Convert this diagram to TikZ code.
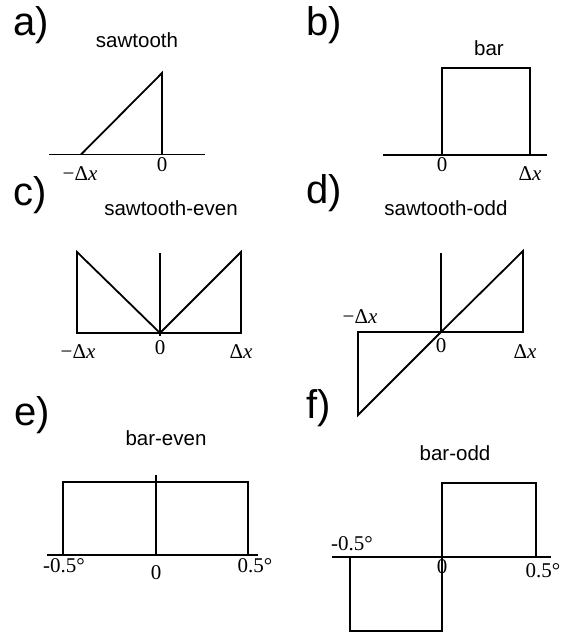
\documentclass[tikz,border=0pt]{standalone}
\usepackage{fontspec}
\setmainfont{Liberation Serif}
\newfontfamily\lblfont{Liberation Sans}
\begin{document}
\begin{tikzpicture}[x=1pt,y=-1pt,
  plotline/.style={line width=1.8pt, line join=miter},
  panel/.style={font=\fontsize{40}{40}\selectfont\lblfont, inner sep=0, anchor=base west},
  ttl/.style={font=\fontsize{20.5}{21}\selectfont\lblfont, inner sep=0, anchor=base},
  tick/.style={font=\fontsize{21}{21}\selectfont, inner sep=0}]
\useasboundingbox (0,0) rectangle (568,637);
% panel labels
\node[panel] (la) at (13,35) {a)};
\node[panel] (lb) at (306,35) {b)};
\node[panel] (lc) at (13,205) {c)};
\node[panel] (ld) at (306,203) {d)};
\node[panel] (le) at (14,425) {e)};
\node[panel] (lf) at (306,418) {f)};
% titles
\node[ttl] (ta) at (137,47) {sawtooth};
\node[ttl] (tb) at (489,55) {bar};
\node[ttl] (tc) at (171,215) {sawtooth-even};
\node[ttl] (td) at (446,215) {sawtooth-odd};
\node[ttl] (te) at (166,445) {bar-even};
\node[ttl] (tf) at (455,460) {bar-odd};
% a) sawtooth
\draw[plotline] (49,154.5) -- (205,154.5);
\draw[plotline] (81,154.5) -- (162,73) -- (162,154.5);
\node[tick] (a0) at (162,165) {0};
\node[tick] (am) at (80,174) {−Δ\textit{x}};
% b) bar
\draw[plotline] (383,155) -- (547,155);
\draw[plotline] (442,155) -- (442,68) -- (530,68) -- (530,155);
\node[tick] (b0) at (442,165) {0};
\node[tick] (bp) at (530,174) {Δ\textit{x}};
% c) sawtooth-even
\draw[plotline] (77,252) -- (160,333) -- (241,252) -- (241,333) -- (77,333) -- cycle;
\draw[plotline] (160,253) -- (160,336);
\node[tick] (cm) at (78,352) {−Δ\textit{x}};
\node[tick] (c0) at (160,348) {0};
\node[tick] (cp) at (241,352) {Δ\textit{x}};
% d) sawtooth-odd
\draw[plotline] (441,332) -- (523,251) -- (523,332) -- cycle;
\draw[plotline] (441,332) -- (358,332) -- (358,415) -- cycle;
\draw[plotline] (441,253) -- (441,332);
\node[tick] (dm) at (360,317) {−Δ\textit{x}};
\node[tick] (d0) at (441,346) {0};
\node[tick] (dp) at (525,352) {Δ\textit{x}};
% e) bar-even
\draw[plotline] (47,555) -- (258,555);
\draw[plotline] (63,555) -- (63,482) -- (248,482) -- (248,555);
\draw[plotline] (156,475) -- (156,555);
\node[tick] (em) at (64,566) {-0.5°};
\node[tick] (e0) at (156,573) {0};
\node[tick] (ep) at (255,566) {0.5°};
% f) bar-odd
\draw[plotline] (332,557) -- (551,557);
\draw[plotline] (442,557) -- (442,483) -- (536,483) -- (536,557);
\draw[plotline] (350,557) -- (350,631) -- (442,631) -- (442,557);
\node[tick] (fm) at (352,544) {-0.5°};
\node[tick] (f0) at (442,567) {0};
\node[tick] (fp) at (543,571) {0.5°};
\end{tikzpicture}
\end{document}
